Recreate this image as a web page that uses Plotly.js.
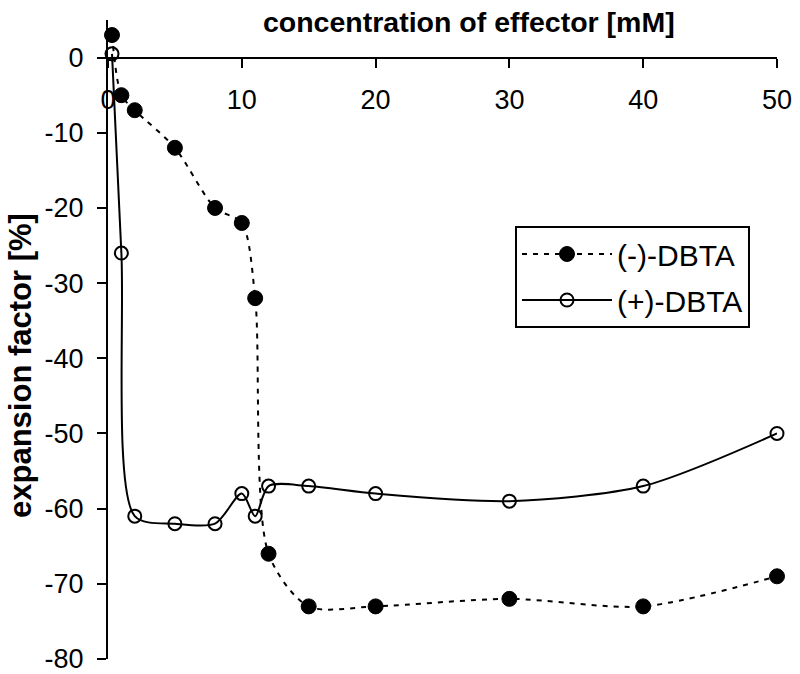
<!DOCTYPE html>
<html>
<head>
<meta charset="utf-8">
<script src="https://cdn.plot.ly/plotly-3.0.1.min.js"></script>
<style>html,body{margin:0;padding:0;background:#fff;}#chart{width:800px;height:674px;}</style>
</head>
<body>
<div id="chart"></div>
<script>
// Data
const concMinus = [0.3, 1, 2, 5, 8, 10, 11, 12, 15, 20, 30, 40, 50];
const expMinus  = [3, -5, -7, -12, -20, -22, -32, -66, -73, -73, -72, -73, -69];
const concPlus  = [0.3, 1, 2, 5, 8, 10, 11, 12, 15, 20, 30, 40, 50];
const expPlus   = [0.5, -26, -61, -62, -62, -58, -61, -57, -57, -58, -59, -57, -50];
const seriesNames = ['(-)-DBTA', '(+)-DBTA'];
const xTicks = [0, 10, 20, 30, 40, 50];
const yTicks = [-80, -70, -60, -50, -40, -30, -20, -10, 0];
const xTitle = 'concentration of effector [mM]';
const yTitle = 'expansion factor [%]';

const FONT = 'Arial, "Liberation Sans", sans-serif';

const traces = [
  {
    x: concMinus, y: expMinus, name: seriesNames[0], type: 'scatter', mode: 'lines+markers',
    legendgroup: 'a', cliponaxis: false,
    line: {color: '#000', width: 2, dash: '5px,6px', shape: 'spline', smoothing: 0.8},
    marker: {symbol: 'circle', size: 15, color: '#000', line: {color: '#000', width: 1}}
  },
  {
    x: concPlus, y: expPlus, name: seriesNames[1], type: 'scatter', mode: 'lines+markers',
    legendgroup: 'b', cliponaxis: false,
    line: {color: '#000', width: 2, shape: 'spline', smoothing: 0.8},
    marker: {symbol: 'circle-open', size: 13, color: '#000', line: {color: '#000', width: 2}}
  }
];

const layout = {
  width: 800, height: 674,
  margin: {l: 108, r: 23, t: 20, b: 15, pad: 0},
  paper_bgcolor: '#fff', plot_bgcolor: '#fff',
  font: {family: FONT, color: '#000', size: 27},
  title: {
    text: '<b>' + xTitle + '</b>',
    font: {family: FONT, size: 28.5, color: '#000'},
    xref: 'container', yref: 'container', x: 0.586, y: 0.968,
    xanchor: 'center', yanchor: 'middle'
  },
  xaxis: {
    range: [0, 50], tickvals: xTicks, ticktext: xTicks.map(String),
    anchor: 'free', position: 80 / 85, side: 'bottom',
    showline: true, linecolor: '#000', linewidth: 2,
    ticks: 'outside', ticklen: 9, tickwidth: 2, tickcolor: '#000',
    ticklabelstandoff: 9,
    showgrid: false, zeroline: false, fixedrange: true,
    tickfont: {family: FONT, size: 27, color: '#000'}
  },
  yaxis: {
    range: [-80, 5], tickvals: yTicks, ticktext: yTicks.map(String),
    showline: true, linecolor: '#000', linewidth: 2,
    ticks: 'outside', ticklen: 9, tickwidth: 2, tickcolor: '#000',
    ticklabelstandoff: 8, ticklabeloverflow: 'allow',
    showgrid: false, zeroline: false, fixedrange: true,
    tickfont: {family: FONT, size: 27, color: '#000'}
  },
  annotations: [{
    text: '<b>' + yTitle + '</b>', textangle: -90, showarrow: false,
    xref: 'paper', yref: 'paper', x: (20 - 108) / 669, y: 1 - (366 - 20) / 639,
    xanchor: 'center', yanchor: 'middle',
    font: {family: FONT, size: 31, color: '#000'}
  }],
  showlegend: true,
  legend: {
    x: (515 - 108) / 669, y: 1 - (226 - 20) / 639, xanchor: 'left', yanchor: 'top',
    bgcolor: '#fff', bordercolor: '#000', borderwidth: 2,
    font: {family: FONT, size: 30, color: '#000'},
    itemwidth: 90, traceorder: 'grouped', tracegroupgap: 4
  }
};

Plotly.newPlot('chart', traces, layout, {displayModeBar: false, staticPlot: true});
</script>
</body>
</html>
